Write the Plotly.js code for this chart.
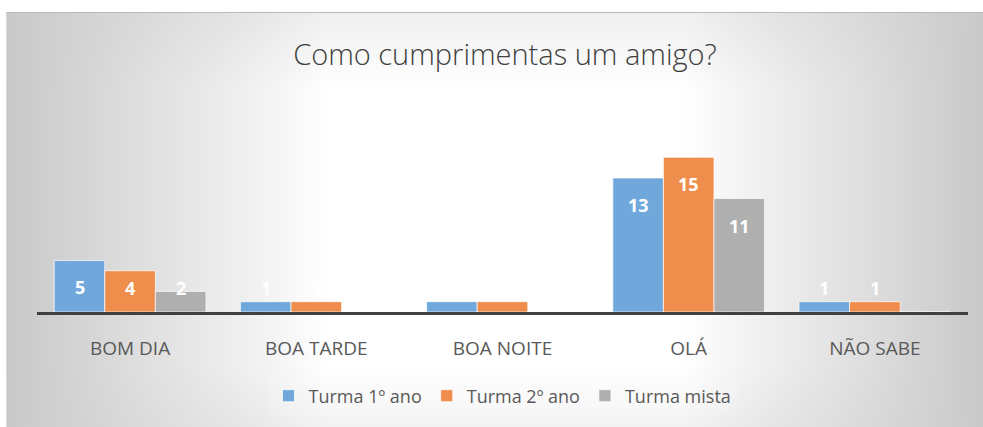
<!DOCTYPE html>
<html>
<head>
<meta charset="utf-8">
<script src="https://cdn.plot.ly/plotly-3.0.1.min.js"></script>
<style>
  html, body { margin: 0; padding: 0; background: #ffffff; }
  #bg {
    position: absolute; left: 6px; top: 12px; width: 977px; height: 415px;
    border-top: 1px solid #b8b8b8; border-left: 1px solid #d8d8d8;
    background:
      linear-gradient(to bottom, rgba(205,205,205,0.3) 0%, rgba(205,205,205,0) 18%, rgba(205,205,205,0) 85%, rgba(205,205,205,0.25) 100%),
      linear-gradient(to right, #c8c8c8 0%, #dcdcdc 12%, #f2f2f2 26%, #ffffff 33%, #ffffff 69%, #f2f2f2 76%, #dcdcdc 89%, #c8c8c8 100%);
  }
  #chart { position: absolute; left: 0; top: 0; width: 983px; height: 427px; }
</style>
</head>
<body>
<div id="bg"></div>
<div id="chart"></div>
<script>
const categories = ["BOM DIA", "BOA TARDE", "BOA NOITE", "OLÁ", "NÃO SABE"];
const seriesNames = ["Turma 1º ano", "Turma 2º ano", "Turma mista"];
const turma1 = [5, 1, 1, 13, 1];
const turma2 = [4, 1, 1, 15, 1];
const turmaMista = [2, 0, 0, 11, 0];
const colors = ["#71a8dc", "#ef8d4c", "#afafaf"];
const chartTitle = "Como cumprimentas um amigo?";

const seriesValues = [turma1, turma2, turmaMista];
const yMax = 16;
const W = 983, H = 427;
const margin = {l: 37, r: 15, t: 147, b: 115};
const plotH = H - margin.t - margin.b;
const pxPerUnit = plotH / yMax;
const plotW = W - margin.l - margin.r;
const catW = plotW / categories.length;
const groupFrac = 0.815;
const barW = catW * groupFrac / 3;

const font = "'Open Sans', 'Noto Sans', sans-serif";

const traces = seriesValues.map((vals, s) => ({
  type: "bar",
  name: seriesNames[s],
  x: categories,
  y: vals,
  marker: { color: colors[s], line: { color: "rgba(255,255,255,0.7)", width: 1 } },
  hoverinfo: "skip"
}));

const annotations = [];
seriesValues.forEach((vals, s) => {
  vals.forEach((v, i) => {
    if (v <= 0) return;
    annotations.push({
      xref: "x", yref: "y", x: categories[i], y: 0,
      xshift: (s - 1) * barW, yshift: Math.max(v * pxPerUnit - 27, 24),
      text: String(v), showarrow: false, xanchor: "center", yanchor: "middle",
      font: { family: font, size: 18, color: "#ffffff", weight: 700 }
    });
  });
});

const layout = {
  width: W, height: H,
  margin: margin,
  paper_bgcolor: "rgba(0,0,0,0)",
  plot_bgcolor: "rgba(0,0,0,0)",
  barmode: "group",
  bargap: 1 - groupFrac,
  bargroupgap: 0,
  showlegend: true,
  title: {
    text: chartTitle,
    x: 505 / W, xref: "container", xanchor: "center",
    y: 1 - 55 / H, yref: "container", yanchor: "middle",
    font: { family: font, size: 29, color: "#404040", weight: 300 }
  },
  xaxis: {
    type: "category",
    showline: true, linecolor: "#404040", linewidth: 3,
    ticks: "", showgrid: false, zeroline: false,
    ticklabelstandoff: 17,
    tickfont: { family: font, size: 19, color: "#595959" },
    fixedrange: true
  },
  yaxis: {
    range: [0, yMax], visible: false, showgrid: false, zeroline: false, fixedrange: true
  },
  legend: {
    orientation: "h",
    x: 0.5, xanchor: "center",
    y: 1 - 396 / H, yref: "container", yanchor: "middle",
    font: { family: font, size: 18, color: "#595959" },
    itemclick: false, itemdoubleclick: false,
    bgcolor: "rgba(255,255,255,0.15)"
  },
  annotations: annotations
};

Plotly.newPlot("chart", traces, layout, { displayModeBar: false, staticPlot: true });
</script>
</body>
</html>
